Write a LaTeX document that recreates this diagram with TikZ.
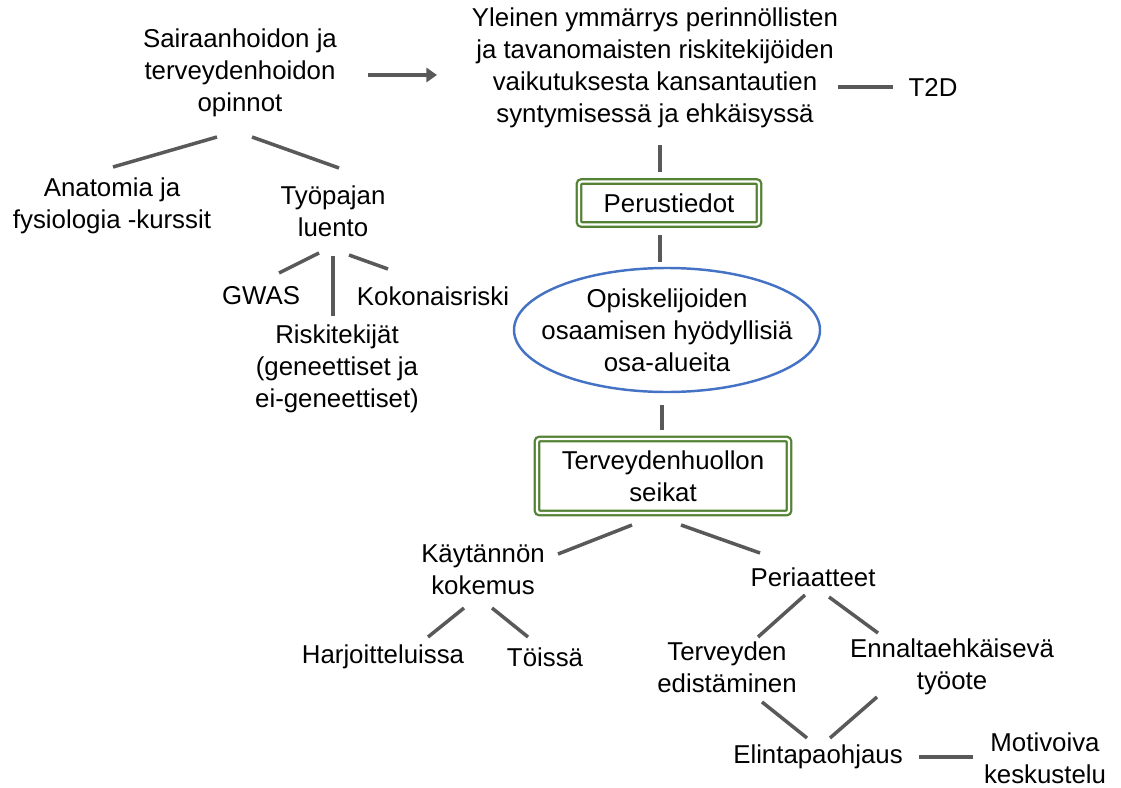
\documentclass[tikz,border=0pt]{standalone}
\usepackage{fontspec}
\setmainfont{Liberation Sans}
\usetikzlibrary{arrows.meta}
\definecolor{linkGray}{RGB}{89,89,89}
\definecolor{boxGreen}{RGB}{84,130,53}
\definecolor{ovalBlue}{RGB}{68,114,196}

\begin{document}
\begin{tikzpicture}[x=0.02cm, y=-0.02cm,
    every node/.style={font=\fontsize{14.7}{18.1}\selectfont, align=center, inner sep=0pt},
    link/.style={linkGray, line width=2pt},
    topicbox/.style={draw=boxGreen, double=white, double distance=1.3pt, line width=1.3pt, rounded corners=1.5pt},
    oval/.style={draw=ovalBlue, line width=1.4pt}]
        \useasboundingbox (0,0) rectangle (1121,787);
        % upper half
        \node (sair) at (240,73) {Sairaanhoidon ja\\terveydenhoidon\\opinnot};
        \node (yle) at (655,68) {Yleinen ymmärrys perinnöllisten\\ja tavanomaisten riskitekijöiden\\vaikutuksesta kansantautien\\syntymisessä ja ehkäisyssä};
        \node (t2d) at (933,87) {T2D};
        \node (anat) at (112,206) {Anatomia ja\\fysiologia -kurssit};
        \node (tyop) at (333,211) {Työpajan\\luento};
        \node (gwas) at (261,296) {GWAS};
        \node (koko) at (433,296) {Kokonaisriski};
        \node (risk) at (337,369) {Riskitekijät\\(geneettiset ja\\ei-geneettiset)};
        \node[topicbox, minimum width=3.6cm, minimum height=0.86cm] (perus) at (669,203) {Perustiedot};
        \node (opis) at (667,330) {Opiskelijoiden\\osaamisen hyödyllisiä\\osa-alueita};
        \draw[oval] (opis.center) ellipse [x radius=153, y radius=62];
        \node[topicbox, minimum width=5.04cm, minimum height=1.48cm] (terv) at (663,476) {Terveydenhuollon\\seikat};
        % lower half
        \node (kayt) at (483,570) {Käytännön\\kokemus};
        \node (peri) at (813,577) {Periaatteet};
        \node (harj) at (383,657) {Harjoitteluissa};
        \node (tois) at (545,657) {Töissä};
        \node (tedi) at (727,667) {Terveyden\\edistäminen};
        \node (enna) at (952,667) {Ennaltaehkäisevä\\työote};
        \node (elin) at (818,757) {Elintapaohjaus};
        \node (moti) at (1045,758) {Motivoiva\\keskustelu};
        % connectors
        \draw[link, -{Triangle[length=6pt, width=8pt]}] ([shift={(128,2)}]sair.center) -- ([shift={(-218,7)}]yle.center);
        \foreach \a/\sa/\b/\sb in {sair/{(-23,64)}/anat/{(1,-39)}, sair/{(12,64)}/tyop/{(6,-43)},
            tyop/{(-14,42)}/gwas/{(18,-23)}, tyop/{(0,45)}/risk/{(-4,-53)}, tyop/{(16,44)}/koko/{(-45,-27)},
            yle/{(183,19)}/t2d/{(-40,0)}, yle/{(5,77)}/perus/{(-9,-31)}, perus/{(-9,32)}/opis/{(-7,-68)},
            opis/{(-5,75)}/terv/{(-1,-46)}, terv/{(-31,49)}/kayt/{(75,-16)}, terv/{(18,49)}/peri/{(-53,-24)},
            kayt/{(-19,38)}/harj/{(45,-20)}, kayt/{(9,38)}/tois/{(-17,-20)},
            peri/{(-8,18)}/tedi/{(31,-30)}, peri/{(16,20)}/enna/{(-74,-34)},
            tedi/{(35,35)}/elin/{(-11,-19)}, enna/{(-75,30)}/elin/{(12,-19)}, elin/{(101,0)}/moti/{(-72,-1)}}{
          \draw[link] ([shift={\sa}]\a.center) -- ([shift={\sb}]\b.center);
        }
\end{tikzpicture}
\end{document}
